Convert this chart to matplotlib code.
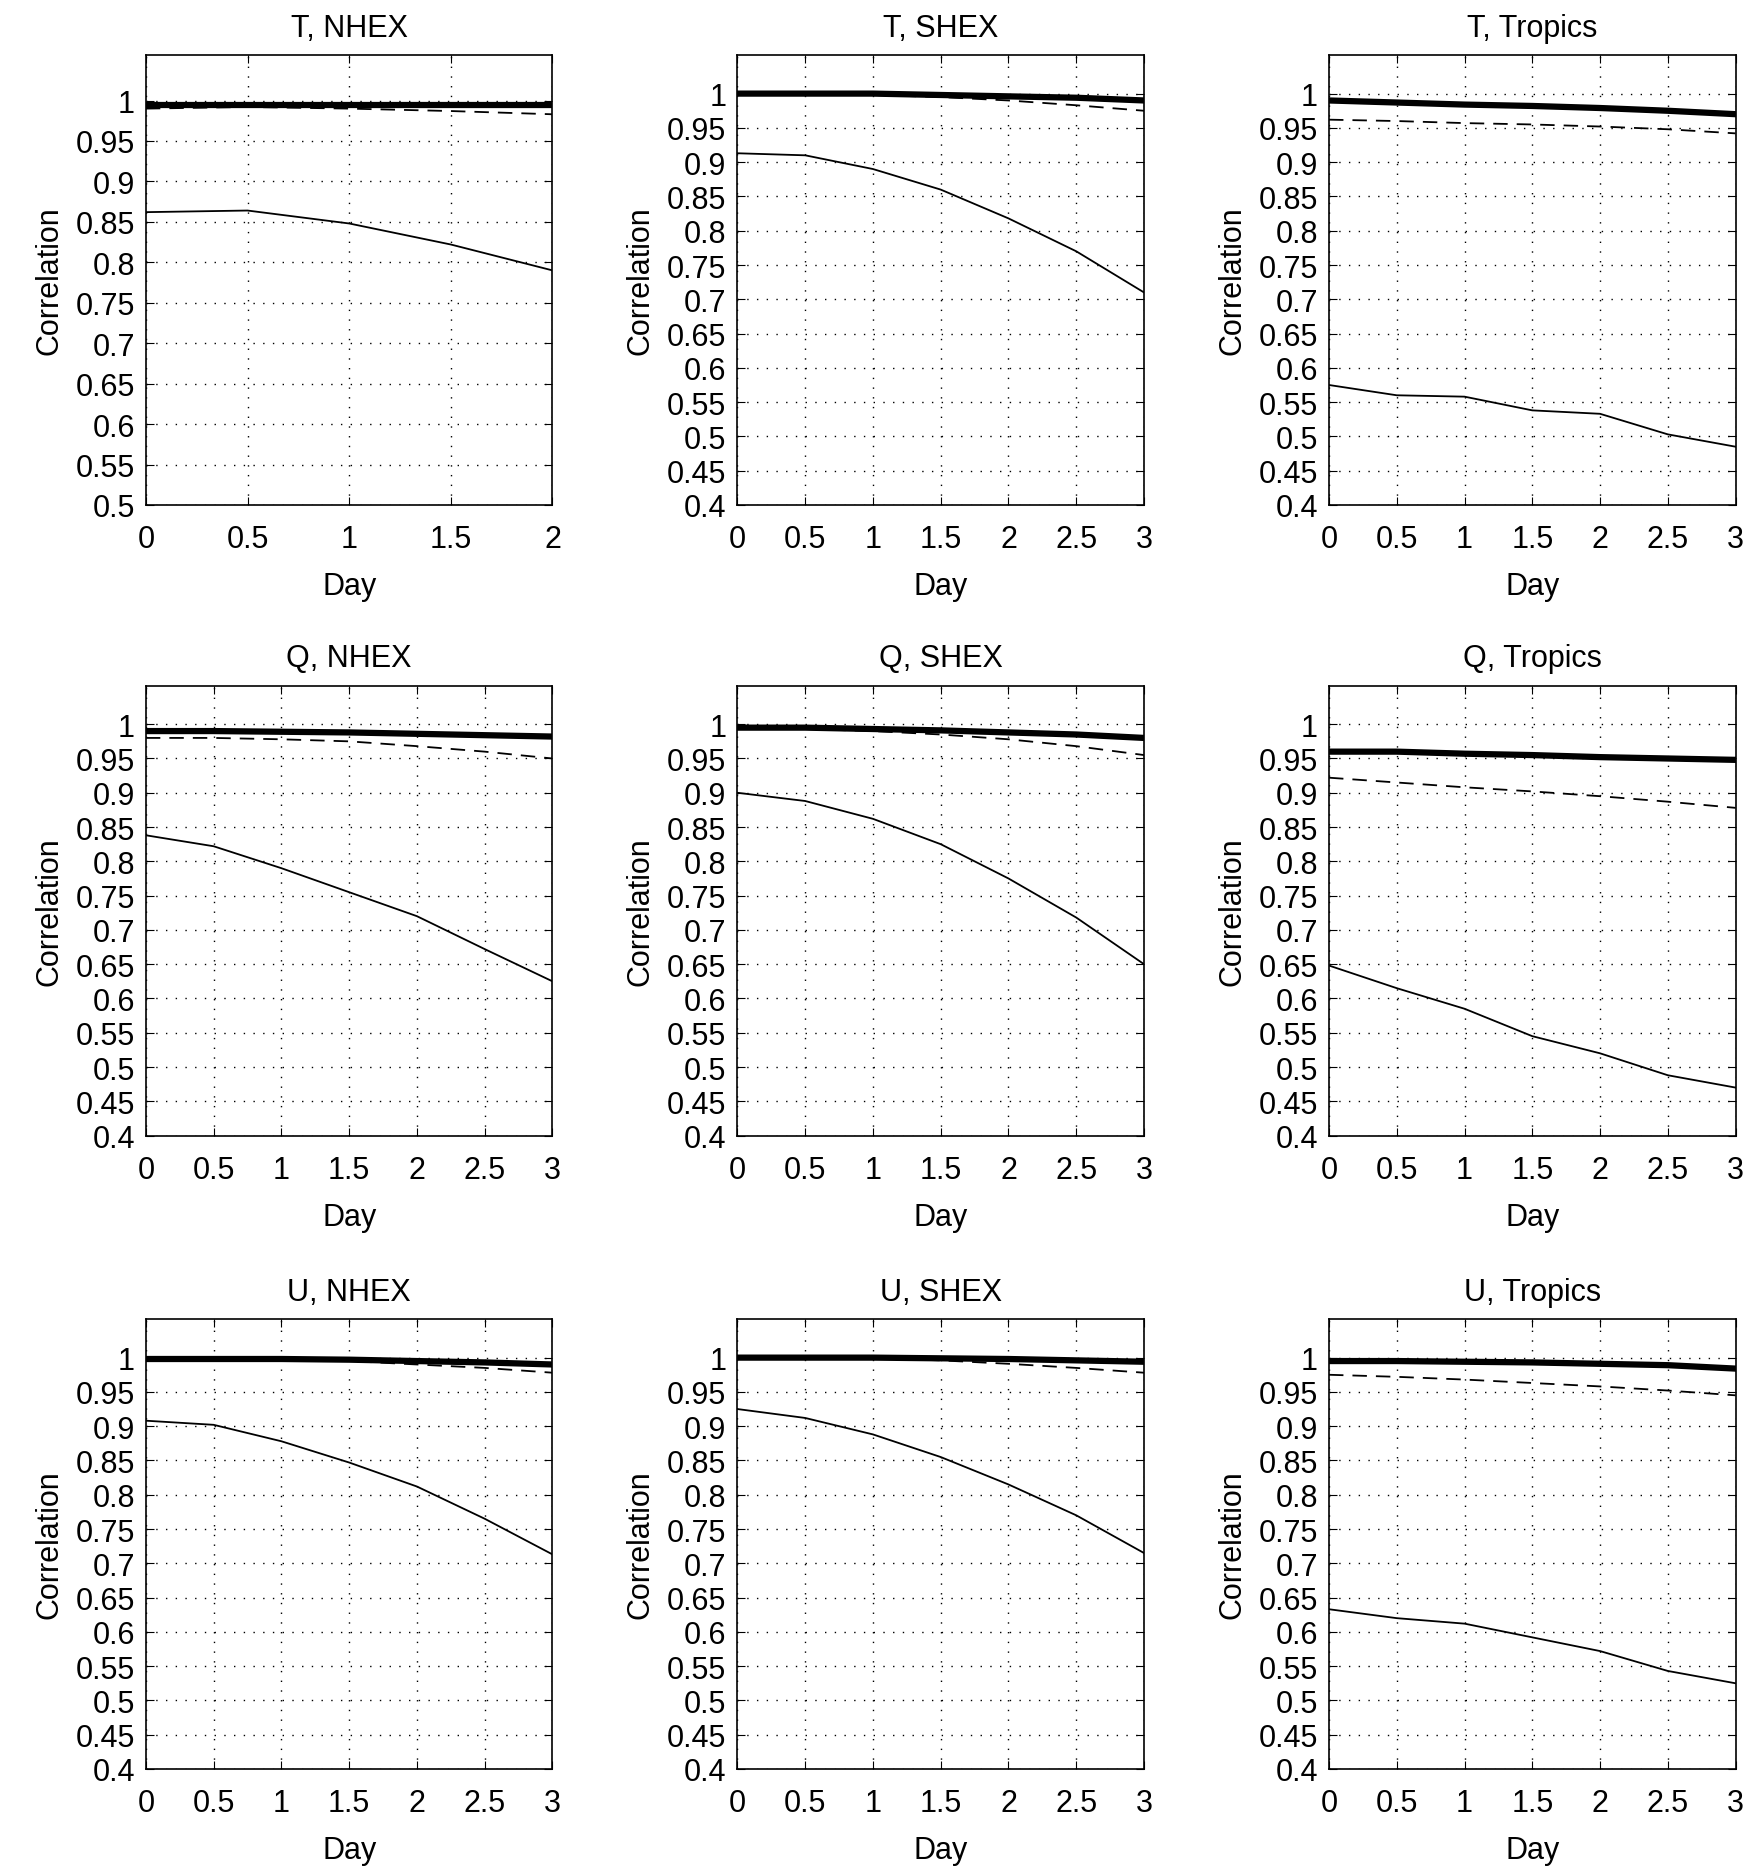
import matplotlib
matplotlib.use("Agg")
import matplotlib.pyplot as plt
import numpy as np

plt.rcParams['font.family'] = ['Liberation Sans', 'DejaVu Sans']

titles = ["T, NHEX", "T, SHEX", "T, Tropics",
          "Q, NHEX", "Q, SHEX", "Q, Tropics",
          "U, NHEX", "U, SHEX", "U, Tropics"]
days_short = [0, 0.5, 1, 1.5, 2]
days = [0, 0.5, 1, 1.5, 2, 2.5, 3]

thick = [
    [0.995, 0.995, 0.995, 0.995, 0.995],
    [1.0, 1.0, 1.0, 0.998, 0.996, 0.994, 0.99],
    [0.99, 0.987, 0.984, 0.982, 0.979, 0.975, 0.97],
    [0.99, 0.99, 0.989, 0.988, 0.986, 0.984, 0.982],
    [0.995, 0.995, 0.993, 0.991, 0.988, 0.985, 0.98],
    [0.96, 0.96, 0.957, 0.955, 0.952, 0.95, 0.948],
    [0.998, 0.998, 0.998, 0.997, 0.995, 0.993, 0.99],
    [1.0, 1.0, 1.0, 0.999, 0.998, 0.996, 0.994],
    [0.995, 0.995, 0.994, 0.993, 0.991, 0.989, 0.984],
]
dashed = [
    [0.99, 0.992, 0.99, 0.987, 0.983],
    [1.0, 1.0, 0.998, 0.995, 0.99, 0.983, 0.975],
    [0.962, 0.96, 0.957, 0.955, 0.952, 0.948, 0.942],
    [0.98, 0.98, 0.978, 0.975, 0.968, 0.96, 0.95],
    [0.995, 0.993, 0.99, 0.985, 0.978, 0.968, 0.955],
    [0.922, 0.915, 0.908, 0.902, 0.895, 0.887, 0.878],
    [0.998, 0.998, 0.997, 0.995, 0.99, 0.985, 0.978],
    [1.0, 1.0, 0.999, 0.996, 0.991, 0.985, 0.978],
    [0.975, 0.972, 0.968, 0.963, 0.958, 0.952, 0.945],
]
thin = [
    [0.862, 0.864, 0.848, 0.822, 0.79],
    [0.913, 0.91, 0.89, 0.86, 0.818, 0.77, 0.71],
    [0.575, 0.56, 0.558, 0.538, 0.533, 0.503, 0.485],
    [0.838, 0.822, 0.79, 0.755, 0.72, 0.672, 0.625],
    [0.9, 0.888, 0.862, 0.825, 0.775, 0.718, 0.65],
    [0.648, 0.615, 0.585, 0.545, 0.52, 0.488, 0.47],
    [0.908, 0.902, 0.878, 0.847, 0.812, 0.765, 0.713],
    [0.925, 0.912, 0.888, 0.855, 0.815, 0.77, 0.715],
    [0.633, 0.62, 0.612, 0.592, 0.572, 0.543, 0.525],
]

fig = plt.figure(figsize=(17.45, 18.74), dpi=100)
lefts = [0.0836, 0.4226, 0.7616]
bottoms = [0.730, 0.3935, 0.0555]
W, H = 0.233, 0.240
fs = 22

for i in range(9):
    r, c = divmod(i, 3)
    ax = fig.add_axes([lefts[c], bottoms[r], W, H])
    x = days_short if i == 0 else days
    ax.plot(x, thick[i], color='black', lw=4.5)
    ax.plot(x, dashed[i], color='black', lw=1.3, ls=(0, (8, 5)))
    ax.plot(x, thin[i], color='black', lw=1.3)
    ymin = 0.5 if i == 0 else 0.4
    ax.set_ylim(ymin, 1.056)
    ax.set_xlim(x[0], x[-1])
    yt = np.round(np.arange(ymin, 1.001, 0.05), 2)
    ax.set_yticks(yt)
    ax.set_yticklabels([f"{v:g}" for v in yt])
    ax.set_xticks(x)
    ax.set_xticklabels([f"{v:g}" for v in x])
    ax.tick_params(labelsize=fs, direction='in', length=6, top=True, right=True)
    ax.tick_params(axis='x', pad=14)
    ax.tick_params(axis='y', pad=8)
    ax.grid(True, color='black', ls=(0, (1, 6)), lw=1.0)
    ax.set_title(titles[i], fontsize=fs, pad=14)
    ax.set_xlabel("Day", fontsize=fs, labelpad=12)
    ax.set_ylabel("Correlation", fontsize=fs, labelpad=8)
    for s in ax.spines.values():
        s.set_linewidth(1.2)

fig.savefig("out.png", dpi=100)
